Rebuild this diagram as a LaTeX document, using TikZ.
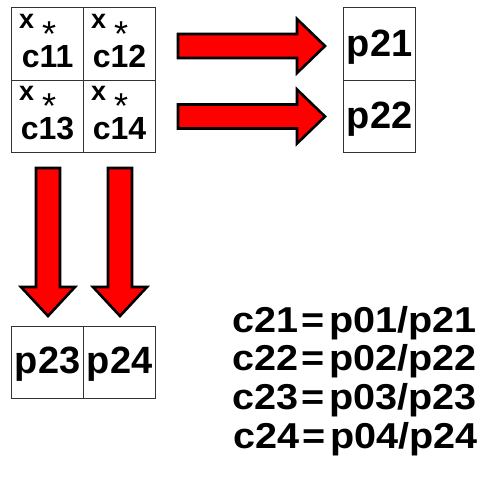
\documentclass[tikz,border=0pt]{standalone}
\usepackage{fontspec}
\setmainfont{Liberation Sans}
\begin{document}
\begin{tikzpicture}[x=1pt,y=-1pt,
  cell/.style={draw=black!80,line width=1.2pt,minimum width=72pt,minimum height=72.5pt,inner sep=0pt,anchor=north west},
  bigarrow/.style={fill=red,draw=black,line width=2.6pt,line join=miter},
  celltxt/.style={font=\fontsize{32}{32}\selectfont\bfseries,inner sep=0pt,anchor=base},
  xtxt/.style={font=\fontsize{27}{27}\selectfont\bfseries,inner sep=0pt,anchor=base west},
  ptxt/.style={font=\fontsize{38}{38}\selectfont\bfseries,inner sep=0pt,anchor=base},
  eqtxt/.style={font=\fontsize{36}{36}\selectfont\bfseries,inner sep=0pt,anchor=base west}]
\newcommand{\lowstar}{\raisebox{-18pt}[0pt][0pt]{\fontsize{36}{36}\selectfont\mdseries *}}
\useasboundingbox (0,0) rectangle (482,488);
% grid
\node[cell] (c11) at (11,7) {};
\node[cell] (c12) at (83,7) {};
\node[cell] (c13) at (11,79.5) {};
\node[cell] (c14) at (83,79.5) {};
\foreach \c/\t in {c11/c11,c12/c12,c13/c13,c14/c14}{
  \node[xtxt] (\c x) at ([shift={(8,21)}]\c.north west) {x\hspace{8pt}\lowstar};
  \node[celltxt] (\c t) at ([shift={(0,60)}]\c.north) {\t};
}
% p21/p22
\node[cell] (p21) at (343,7) {};
\node[cell] (p22) at (343,79.5) {};
\node[ptxt] (p21t) at ([shift={(0,49)}]p21.north) {p21};
\node[ptxt] (p22t) at ([shift={(0,49)}]p22.north) {p22};
% p23/p24
\node[cell] (p23) at (11,325.5) {};
\node[cell] (p24) at (83,325.5) {};
\node[ptxt] (p23t) at ([shift={(0,48)}]p23.north) {p23};
\node[ptxt] (p24t) at ([shift={(0,48)}]p24.north) {p24};
% right arrows
\foreach \cy in {46,116.5}{
  \draw[bigarrow] (178,\cy-12) -- (297,\cy-12) -- (297,\cy-27) -- (325,\cy) -- (297,\cy+27) -- (297,\cy+12) -- (178,\cy+12) -- cycle;
}
% down arrows
\foreach \cx in {48,120}{
  \draw[bigarrow] (\cx-12,168) -- (\cx-12,287) -- (\cx-27,287) -- (\cx,316) -- (\cx+27,287) -- (\cx+12,287) -- (\cx+12,168) -- cycle;
}
% equations
\node[eqtxt] (e1) at (232,332) {\scalebox{1.1}[1]{c21\hspace{3pt}=\hspace{4pt}p01/p21}};
\node[eqtxt] (e2) at (232,370) {\scalebox{1.1}[1]{c22\hspace{3pt}=\hspace{4pt}p02/p22}};
\node[eqtxt] (e3) at (232,409) {\scalebox{1.1}[1]{c23\hspace{3pt}=\hspace{4pt}p03/p23}};
\node[eqtxt] (e4) at (233,448) {\scalebox{1.1}[1]{c24\hspace{3pt}=\hspace{4pt}p04/p24}};
\end{tikzpicture}
\end{document}
